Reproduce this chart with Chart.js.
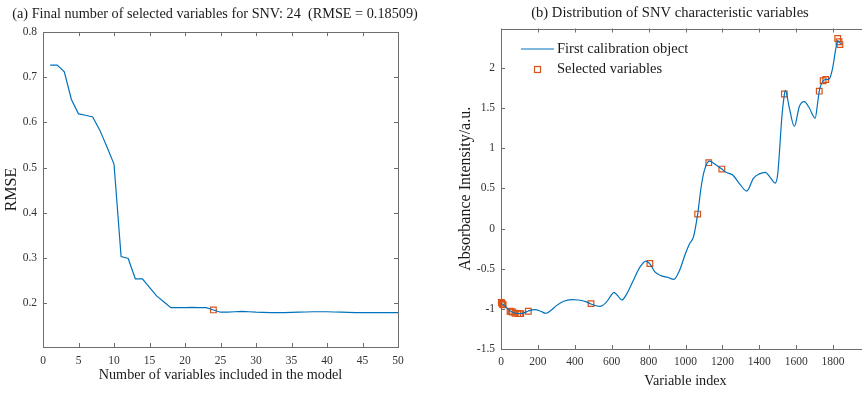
<!DOCTYPE html>
<html>
<head>
<meta charset="utf-8">
<script src="https://cdn.jsdelivr.net/npm/chart.js@4.4.1/dist/chart.umd.min.js"></script>
<style>
  html, body { margin: 0; padding: 0; background: #fff; overflow: hidden; }
  #wrap { position: relative; width: 862px; height: 394px; overflow: hidden; }
  #chartA { position: absolute; left: 0; top: 0; }
  #chartB { position: absolute; left: 430px; top: 0; }
</style>
</head>
<body>
<div id="wrap">
  <canvas id="chartA" width="430" height="394"></canvas>
  <canvas id="chartB" width="480" height="394"></canvas>
</div>
<script>
// (a) RMSE vs number of variables
var nVars = [1,2,3,4,5,6,7,8,9,10,11,12,13,14,15,16,17,18,19,20,21,22,23,24,25,
             26,27,28,29,30,31,32,33,34,35,36,37,38,39,40,41,42,43,44,45,46,47,48,49,50];
var rmse = [0.727,0.727,0.712,0.651,0.619,0.616,0.612,0.583,0.546,0.508,
            0.303,0.299,0.254,0.254,0.235,0.216,0.203,0.190,0.190,0.190,
            0.1905,0.190,0.190,0.185,0.180,0.180,0.181,0.182,0.181,0.180,
            0.1795,0.179,0.179,0.179,0.1795,0.180,0.1805,0.181,0.181,0.181,
            0.1805,0.180,0.1795,0.179,0.179,0.179,0.179,0.179,0.179,0.179];
var bestN = [24];
var bestRmse = [0.18509];
var xTicksA = [0,5,10,15,20,25,30,35,40,45,50];
var yTicksA = [0.2,0.3,0.4,0.5,0.6,0.7,0.8];

// (b) spectrum and selected variables
var specIdx = [0,20,40,60,80,100,125,150,185,215,242,270,300,340,383,420,460,488,536,570,
               595,612,630,655,680,717,753,785,807,834,870,906,937,968,1000,1022,1043,1066,1085,1103,
               1130,1166,1197,1220,1256,1292,1332,1368,1400,1432,1463,1486,1500,1510,1522,1533,1541,1563,1590,1617,
               1644,1671,1703,1716,1725,1746,1760,1778,1796,1814,1825,1832,1845];
var specVal = [-0.93,-0.96,-1.01,-1.04,-1.055,-1.06,-1.05,-1.025,-1.01,-1.03,-1.055,-1.02,-0.96,-0.905,-0.885,-0.89,-0.91,-0.94,-0.97,-0.92,
               -0.84,-0.795,-0.83,-0.89,-0.82,-0.646,-0.48,-0.405,-0.44,-0.54,-0.59,-0.61,-0.634,-0.52,-0.31,-0.19,-0.105,0.18,0.52,0.73,
               0.84,0.79,0.74,0.70,0.666,0.56,0.466,0.625,0.68,0.70,0.625,0.565,0.68,0.98,1.38,1.62,1.72,1.50,1.27,1.52,
               1.58,1.50,1.375,1.56,1.71,1.84,1.855,1.86,1.98,2.23,2.34,2.32,2.30];
var selIdx = [2,5,8,12,49,55,62,76,90,100,107,148,488,807,1066,1126,1197,1536,1725,1746,1760,1825,1832,1837];
var selVal = [-0.92,-0.93,-0.945,-0.95,-1.03,-1.035,-1.04,-1.055,-1.06,-1.06,-1.06,-1.03,-0.935,-0.435,0.18,0.82,0.74,1.675,1.71,1.84,1.855,2.366,2.325,2.29];
var xTicksB = [0,200,400,600,800,1000,1200,1400,1600,1800];
var yTicksB = [-1.5,-1,-0.5,0,0.5,1,1.5,2];

var serif = 'Liberation Serif, Times New Roman, serif';
var blue = '#0072BD';
var orange = '#D95319';
var axisGray = '#6e6e6e';

function toXY(xs, ys) {
  return xs.map(function (v, i) { return { x: v, y: ys[i] }; });
}
function fixTicks(list) {
  return function (scale) {
    scale.ticks = list.map(function (v) { return { value: v }; });
  };
}
function fmt(v) { return String(+Number(v).toFixed(2)); }

// MATLAB-like box with inward ticks
var boxPlugin = {
  id: 'box',
  beforeDatasetsDraw: function (chart) {
    var ctx = chart.ctx, a = chart.chartArea, sx = chart.scales.x, sy = chart.scales.y;
    ctx.save();
    ctx.strokeStyle = axisGray;
    ctx.lineWidth = 1;
    ctx.strokeRect(Math.round(a.left) + 0.5, Math.round(a.top) + 0.5,
                   Math.round(a.right - a.left), Math.round(a.bottom - a.top));
    ctx.beginPath();
    sx.ticks.forEach(function (t) {
      var px = Math.round(sx.getPixelForValue(t.value)) + 0.5;
      ctx.moveTo(px, a.bottom); ctx.lineTo(px, a.bottom - 4);
      ctx.moveTo(px, a.top); ctx.lineTo(px, a.top + 4);
    });
    sy.ticks.forEach(function (t) {
      var py = Math.round(sy.getPixelForValue(t.value)) + 0.5;
      ctx.moveTo(a.left, py); ctx.lineTo(a.left + 4, py);
      ctx.moveTo(a.right, py); ctx.lineTo(a.right - 4, py);
    });
    ctx.stroke();
    ctx.restore();
  }
};

// legend drawn inside the plot, top-left (MATLAB style, no frame)
var legendPlugin = {
  id: 'innerLegend',
  afterDraw: function (chart) {
    var ctx = chart.ctx, ds = chart.data.datasets;
    ctx.save();
    ctx.font = '14.5px ' + serif;
    ctx.fillStyle = '#1a1a1a';
    ctx.textBaseline = 'middle';
    ctx.textAlign = 'left';
    ctx.strokeStyle = ds[0].borderColor;
    ctx.lineWidth = 1.2;
    ctx.beginPath(); ctx.moveTo(91, 49); ctx.lineTo(124, 49); ctx.stroke();
    ctx.fillText(ds[0].label, 127, 49);
    ctx.strokeStyle = ds[1].borderColor;
    ctx.strokeRect(104.5, 66.5, 6, 6);
    ctx.fillText(ds[1].label, 127, 69);
    ctx.restore();
  }
};

function axisOpts(min, max, ticksList, title, titlePad, labelPad, horizontal, size, padRight) {
  return {
    type: 'linear',
    min: min,
    max: max,
    afterBuildTicks: fixTicks(ticksList),
    afterFit: function (scale) {
      if (horizontal) {
        scale.height = size;
        scale.paddingRight = padRight;
      } else {
        scale.width = size;
      }
    },
    grid: { display: false, drawTicks: false },
    border: { display: false },
    ticks: {
      font: { family: serif, size: 11.5 },
      color: '#333',
      padding: labelPad,
      maxRotation: 0,
      autoSkip: false,
      callback: fmt
    },
    title: {
      display: true,
      text: title,
      font: { family: serif, size: horizontal ? 14.2 : 16 },
      color: '#1a1a1a',
      padding: horizontal ? { top: 0, bottom: titlePad } : { top: titlePad, bottom: 0 }
    }
  };
}

var common = {
  responsive: false,
  animation: false,
  events: [],
  layout: { padding: 0 }
};

new Chart(document.getElementById('chartA').getContext('2d'), {
  type: 'scatter',
  data: {
    datasets: [
      {
        label: 'RMSE',
        data: toXY(nVars, rmse),
        showLine: true,
        borderColor: blue,
        borderWidth: 1.2,
        pointRadius: 0,
        tension: 0
      }, {
        label: 'Selected',
        data: toXY(bestN, bestRmse),
        showLine: false,
        pointStyle: 'rect',
        pointRadius: 4,
        borderColor: orange,
        backgroundColor: 'rgba(0,0,0,0)',
        pointBorderWidth: 1.2
      }
    ]
  },
  options: Object.assign({}, common, {
    plugins: {
      legend: { display: false },
      tooltip: { enabled: false },
      title: {
        display: true,
        text: '(a) Final number of selected variables for SNV: 24  (RMSE = 0.18509)',
        font: { family: serif, size: 14.25, weight: 'normal' },
        color: '#1a1a1a',
        padding: { top: 6, bottom: 9 }
      }
    },
    scales: {
      x: axisOpts(0, 50, xTicksA, 'Number of variables included in the model', 10, 7, true, 47, 32),
      y: axisOpts(0.103, 0.8, yTicksA, 'RMSE', 2.5, 6, false, 43)
    }
  }),
  plugins: [boxPlugin]
});

new Chart(document.getElementById('chartB').getContext('2d'), {
  type: 'scatter',
  data: {
    datasets: [
      {
        label: 'First calibration object',
        data: toXY(specIdx, specVal),
        showLine: true,
        borderColor: blue,
        borderWidth: 1.2,
        pointRadius: 0,
        tension: 0.4,
        cubicInterpolationMode: 'monotone'
      }, {
        label: 'Selected variables',
        data: toXY(selIdx, selVal),
        showLine: false,
        clip: false,
        pointStyle: 'rect',
        pointRadius: 4,
        borderColor: orange,
        backgroundColor: 'rgba(0,0,0,0)',
        pointBorderWidth: 1.2
      }
    ]
  },
  options: Object.assign({}, common, {
    plugins: {
      legend: { display: false },
      tooltip: { enabled: false },
      title: {
        display: true,
        text: '(b) Distribution of SNV characteristic variables',
        font: { family: serif, size: 14.6, weight: 'normal' },
        color: '#1a1a1a',
        padding: { top: 4, bottom: 7 }
      }
    },
    scales: {
      x: axisOpts(0, 2000, xTicksB, 'Variable index', 4, 6.5, true, 45, 40),
      y: axisOpts(-1.5, 2.49, yTicksB, 'Absorbance Intensity/a.u.', 26.5, 6, false, 71)
    }
  }),
  plugins: [boxPlugin, legendPlugin]
});
</script>
</body>
</html>
